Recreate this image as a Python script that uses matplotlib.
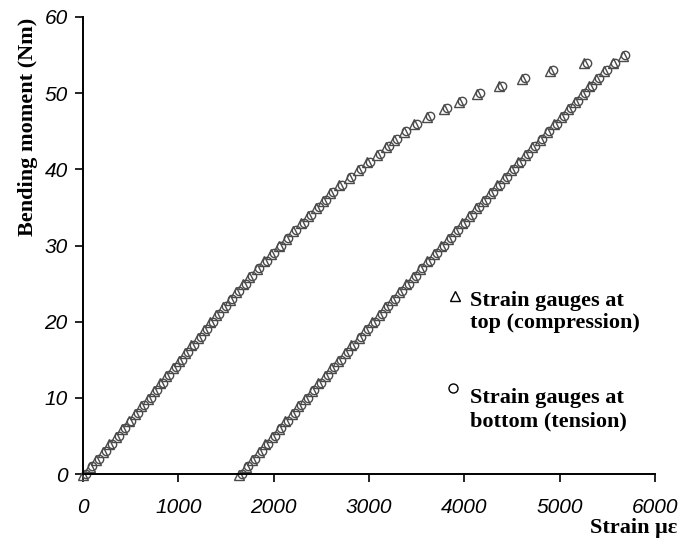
import matplotlib
matplotlib.use("Agg")
import matplotlib.pyplot as plt
from matplotlib.lines import Line2D

# Bending moment levels (Nm)
moment_top = list(range(0, 55))
moment_bottom = list(range(0, 56))

# Strain (micro-strain) of gauges at top (compression)
strain_top = [30, 99, 168, 237, 306, 375, 439, 508, 577, 641, 710,
              774, 838, 903, 972, 1036, 1100, 1164, 1233, 1297, 1361,
              1430, 1499, 1568, 1637, 1706, 1776, 1850, 1928, 2002, 2081,
              2155, 2234, 2313, 2392, 2471, 2545, 2624, 2718, 2816, 2915,
              3013, 3117, 3206, 3295, 3393, 3505, 3641, 3819, 3977, 4166,
              4396, 4638, 4932, 5289]

# Strain (micro-strain) of gauges at bottom (tension)
strain_bottom = [1667, 1736, 1805, 1874, 1943, 2012, 2081, 2150, 2219, 2288, 2357,
                 2427, 2496, 2565, 2634, 2708, 2777, 2846, 2920, 2989, 3058,
                 3132, 3201, 3275, 3344, 3418, 3492, 3561, 3635, 3709, 3783,
                 3857, 3931, 4005, 4079, 4153, 4227, 4301, 4375, 4449, 4523,
                 4597, 4671, 4745, 4819, 4893, 4967, 5041, 5115, 5188, 5262,
                 5336, 5415, 5494, 5585, 5690]

x_ticks = [0, 1000, 2000, 3000, 4000, 5000, 6000]
y_ticks = [0, 10, 20, 30, 40, 50, 60]

W, H = 695, 540
fig = plt.figure(figsize=(W/100, H/100), dpi=100)
ax = fig.add_axes([83/W, 1 - 474/H, (655-83)/W, (474-17)/H])

mk = dict(linestyle='none', markerfacecolor='none', markeredgecolor='#4a4a4a',
          markeredgewidth=1.0, clip_on=False)
for xs, ys in [(strain_top, moment_top), (strain_bottom, moment_bottom)]:
    ax.plot([x - 30 for x in xs], [y - 0.1 for y in ys], marker='^', markersize=6.5, **mk)
    ax.plot(xs, ys, marker='o', markersize=6, **mk)

ax.set_xlim(0, 6000)
ax.set_ylim(0, 60)
ax.set_xticks(x_ticks)
ax.set_yticks(y_ticks)
for s in ['top', 'right']:
    ax.spines[s].set_visible(False)
for s in ['left', 'bottom']:
    ax.spines[s].set_linewidth(1.4)
    ax.spines[s].set_color('black')
ax.tick_params(direction='out', length=6, width=1.2, colors='black')
ax.tick_params(axis='x', pad=11)
ax.tick_params(axis='y', pad=5)
for lab in ax.get_xticklabels() + ax.get_yticklabels():
    lab.set_fontfamily('Liberation Sans')
    lab.set_fontstyle('italic')
    lab.set_fontsize(15)

serif = dict(family='Liberation Serif', weight='bold')
fig.text(28/W, 1 - 127/H, 'Bending moment (Nm)', rotation=90,
         ha='center', va='center', fontsize=16, **serif)
fig.text(677/W, 1 - 528/H, 'Strain \u03bc\u03b5', ha='right', va='center',
         fontsize=16, **serif)

# legend-like annotation
fig.add_artist(Line2D([455/W], [1 - 296/H], marker='^', markersize=7,
                      markerfacecolor='none', markeredgecolor='black', markeredgewidth=1.0))
fig.add_artist(Line2D([453/W], [1 - 388/H], marker='o', markersize=6.5,
                      markerfacecolor='none', markeredgecolor='black', markeredgewidth=1.0))
legend_lines = [('Strain gauges at', 306), ('top (compression)', 328),
                ('Strain gauges at', 403), ('bottom (tension)', 426)]
for txt, yb in legend_lines:
    fig.text(470/W, 1 - yb/H, txt, ha='left', va='baseline', fontsize=16, **serif)

fig.savefig('out.png', dpi=100)
